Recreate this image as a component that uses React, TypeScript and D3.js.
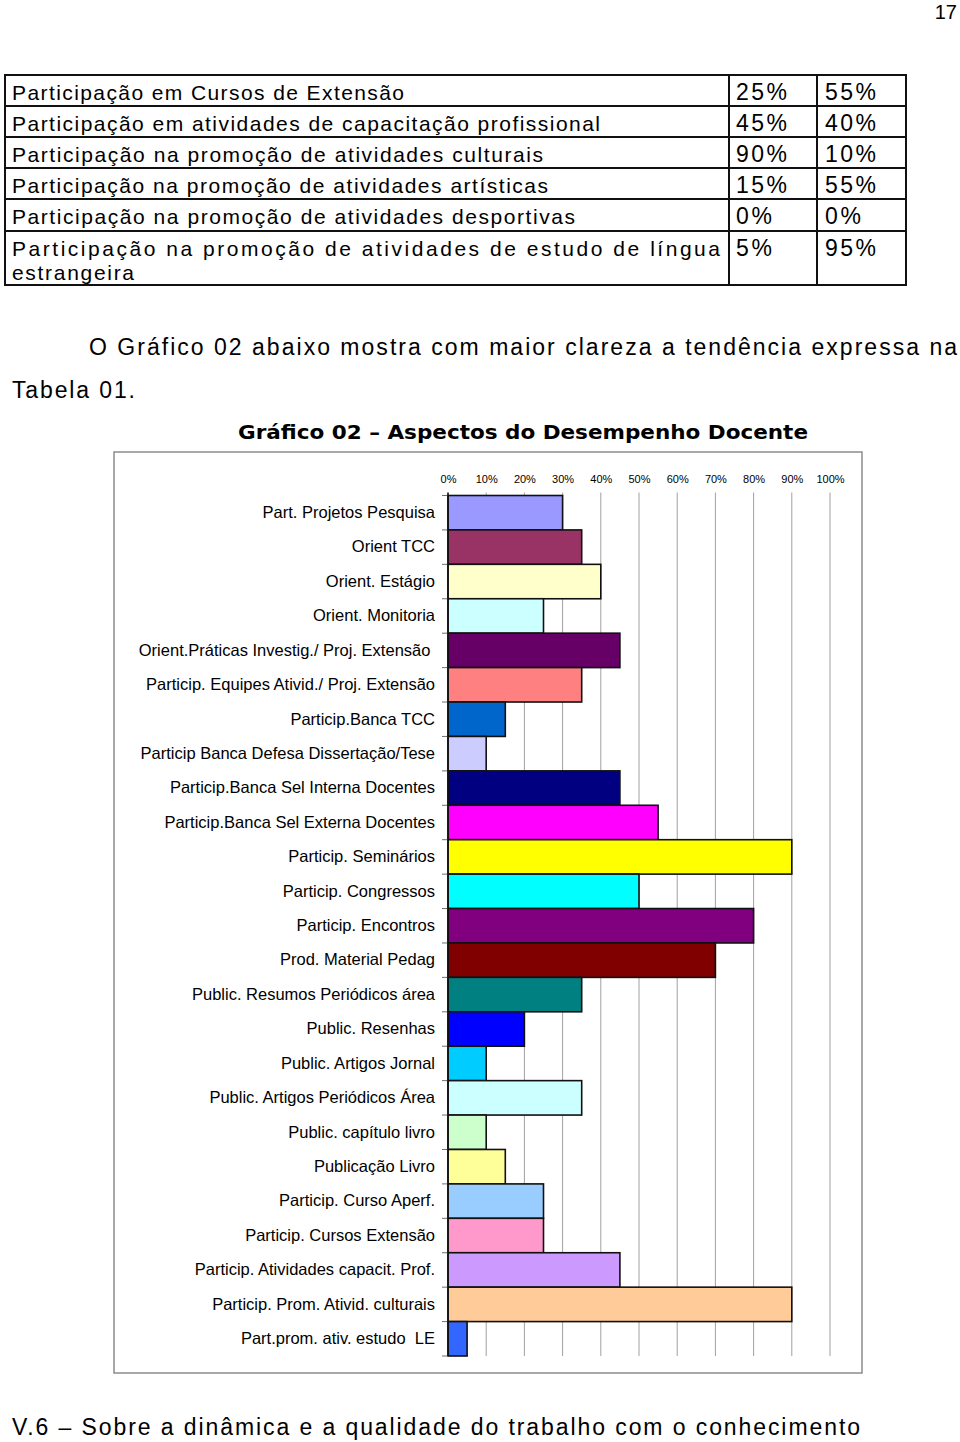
import { useEffect, useRef } from 'react'
import * as d3 from 'd3'

// table 01 (tail end shown on this page)
const tableLabels = [
  'Participação em Cursos de Extensão',
  'Participação em atividades de capacitação profissional',
  'Participação na promoção de atividades culturais',
  'Participação na promoção de atividades artísticas',
  'Participação na promoção de atividades desportivas',
  'Participação na promoção de atividades de estudo de língua',
]
const tableColA = ['25%', '45%', '90%', '15%', '0%', '5%']
const tableColB = ['55%', '40%', '10%', '55%', '0%', '95%']

// grafico 02
const categories = [
  'Part. Projetos Pesquisa',
  'Orient TCC',
  'Orient. Estágio',
  'Orient. Monitoria',
  'Orient.Práticas Investig./ Proj. Extensão ',
  'Particip. Equipes Ativid./ Proj. Extensão',
  'Particip.Banca TCC',
  'Particip Banca Defesa Dissertação/Tese',
  'Particip.Banca Sel Interna Docentes',
  'Particip.Banca Sel Externa Docentes',
  'Particip. Seminários',
  'Particip. Congressos',
  'Particip. Encontros',
  'Prod. Material Pedag',
  'Public. Resumos Periódicos área',
  'Public. Resenhas',
  'Public. Artigos Jornal',
  'Public. Artigos Periódicos Área',
  'Public. capítulo livro',
  'Publicação Livro',
  'Particip. Curso Aperf.',
  'Particip. Cursos Extensão',
  'Particip. Atividades capacit. Prof.',
  'Particip. Prom. Ativid. culturais',
  'Part.prom. ativ. estudo  LE',
]
const values = [
  0.3, 0.35, 0.4, 0.25, 0.45, 0.35, 0.15, 0.1, 0.45, 0.55, 0.9, 0.5, 0.8,
  0.7, 0.35, 0.2, 0.1, 0.35, 0.1, 0.15, 0.25, 0.25, 0.45, 0.9, 0.05,
]
const xTickValues = [0, 0.1, 0.2, 0.3, 0.4, 0.5, 0.6, 0.7, 0.8, 0.9, 1]

const barColors = [
  '#9999FF', '#993366', '#FFFFCC', '#CCFFFF', '#660066', '#FF8080', '#0066CC',
  '#CCCCFF', '#000080', '#FF00FF', '#FFFF00', '#00FFFF', '#800080', '#800000',
  '#008080', '#0000FF', '#00CCFF', '#CCFFFF', '#CCFFCC', '#FFFF99', '#99CCFF',
  '#FF99CC', '#CC99FF', '#FFCC99', '#3366FF',
]

const bodyFont = "'Liberation Sans', Arial, sans-serif"

const BarChart = () => {
  const gRef = useRef<SVGGElement | null>(null)

  useEffect(() => {
    if (!gRef.current) return
    const g = d3.select(gRef.current)
    g.selectAll('*').remove()

    const plot = { left: 448, right: 830, top: 495.5, bottom: 1356 }

    const x = d3.scaleLinear().domain([0, 1]).range([plot.left, plot.right])
    const y = d3
      .scaleBand<string>()
      .domain(categories)
      .range([plot.top, plot.bottom])
      .padding(0)

    // chart frame
    g.append('rect')
      .attr('x', 114)
      .attr('y', 452)
      .attr('width', 748)
      .attr('height', 921)
      .attr('fill', 'white')
      .attr('stroke', '#8c8c8c')
      .attr('stroke-width', 1.5)

    // vertical grid lines
    g.selectAll('line.grid')
      .data(xTickValues.slice(1))
      .join('line')
      .attr('class', 'grid')
      .attr('x1', (d) => x(d))
      .attr('x2', (d) => x(d))
      .attr('y1', plot.top - 3)
      .attr('y2', plot.bottom)
      .attr('stroke', '#a0a0a0')
      .attr('stroke-width', 1)

    // top axis labels
    const xAxis = d3
      .axisTop(x)
      .tickValues(xTickValues)
      .tickFormat(d3.format('.0%'))
      .tickSize(0)
      .tickPadding(13)
    const ax = g
      .append('g')
      .attr('transform', `translate(0,${plot.top})`)
      .call(xAxis)
    ax.select('.domain').remove()
    ax.selectAll('text')
      .attr('font-family', bodyFont)
      .attr('font-size', 11)
      .attr('fill', '#000')

    // bars
    g.selectAll('rect.bar')
      .data(categories)
      .join('rect')
      .attr('class', 'bar')
      .attr('x', x(0))
      .attr('y', (d) => y(d)!)
      .attr('width', (_, i) => x(values[i]) - x(0))
      .attr('height', y.bandwidth())
      .attr('fill', (_, i) => barColors[i])
      .attr('stroke', '#111')
      .attr('stroke-width', 1.6)

    // category axis
    const yAxis = d3.axisLeft(y).tickSize(0).tickPadding(13)
    const ay = g
      .append('g')
      .attr('transform', `translate(${plot.left},0)`)
      .call(yAxis)
    ay.select('.domain').remove()
    ay.selectAll('text')
      .attr('font-family', bodyFont)
      .attr('font-size', 16.5)
      .attr('fill', '#000')
      .style('white-space', 'pre')

    // tick marks between categories
    const bounds = categories.map((c) => y(c)!).concat([plot.bottom])
    g.selectAll('line.ytick')
      .data(bounds)
      .join('line')
      .attr('class', 'ytick')
      .attr('x1', plot.left - 6)
      .attr('x2', plot.left)
      .attr('y1', (d) => d)
      .attr('y2', (d) => d)
      .attr('stroke', '#707070')
      .attr('stroke-width', 1)

    // axis line
    g.append('line')
      .attr('x1', plot.left)
      .attr('x2', plot.left)
      .attr('y1', plot.top - 3)
      .attr('y2', plot.bottom)
      .attr('stroke', '#111')
      .attr('stroke-width', 1.6)
  }, [])

  return <g ref={gRef}></g>
}

const App = () => {
  const rowTops = [75, 106, 137, 168, 199, 231]
  const tableBottom = 285
  const labelWidths = [392, 588, 531, 536, 563, 708]

  return (
    <svg
      width={960}
      height={1442}
      style={{ position: 'absolute', left: 0, top: 0, background: 'white' }}
    >
      <rect x={0} y={0} width={960} height={1442} fill="white" />

      {/* page number */}
      <text x={957} y={19} textAnchor="end" fontFamily={bodyFont} fontSize={20}>
        17
      </text>

      {/* table */}
      <g fontFamily={bodyFont} fontSize={21} fill="#000">
        <rect
          x={5}
          y={rowTops[0]}
          width={901}
          height={tableBottom - rowTops[0]}
          fill="none"
          stroke="#111"
          strokeWidth={2}
        />
        {rowTops.slice(1).map((t) => (
          <line key={t} x1={5} x2={906} y1={t} y2={t} stroke="#111" strokeWidth={2} />
        ))}
        <line x1={729} x2={729} y1={rowTops[0]} y2={tableBottom} stroke="#111" strokeWidth={2} />
        <line x1={817} x2={817} y1={rowTops[0]} y2={tableBottom} stroke="#111" strokeWidth={2} />
        {tableLabels.map((lab, i) => (
          <text
            key={lab}
            x={12}
            y={rowTops[i] + 25}
            textLength={labelWidths[i]}
            lengthAdjust="spacing"
          >
            {lab}
          </text>
        ))}
        <text x={12} y={280} textLength={122} lengthAdjust="spacing">
          estrangeira
        </text>
        {tableColA.map((v, i) => (
          <text
            key={'a' + i}
            x={736}
            y={rowTops[i] + 25}
            fontSize={23}
            textLength={v.length === 2 ? 36 : 51}
            lengthAdjust="spacing"
          >
            {v}
          </text>
        ))}
        {tableColB.map((v, i) => (
          <text
            key={'b' + i}
            x={825}
            y={rowTops[i] + 25}
            fontSize={23}
            textLength={v.length === 2 ? 36 : 51}
            lengthAdjust="spacing"
          >
            {v}
          </text>
        ))}
      </g>

      {/* paragraph */}
      <g fontFamily={bodyFont} fontSize={23} fill="#000">
        <text x={89} y={355} textLength={868} lengthAdjust="spacing">
          O Gráfico 02 abaixo mostra com maior clareza a tendência expressa na
        </text>
        <text x={12} y={398} textLength={123} lengthAdjust="spacing">
          Tabela 01.
        </text>
      </g>

      {/* chart title */}
      <text
        x={238}
        y={439}
        fontFamily="'DejaVu Sans', Verdana, sans-serif"
        fontWeight="bold"
        fontSize={20}
        textLength={570}
        lengthAdjust="spacingAndGlyphs"
      >
        Gráfico 02 – Aspectos do Desempenho Docente
      </text>

      <BarChart />

      {/* footer heading */}
      <text
        x={12}
        y={1435}
        fontFamily={bodyFont}
        fontSize={23}
        textLength={848}
        lengthAdjust="spacing"
      >
        V.6 – Sobre a dinâmica e a qualidade do trabalho com o conhecimento
      </text>
    </svg>
  )
}

export default App
